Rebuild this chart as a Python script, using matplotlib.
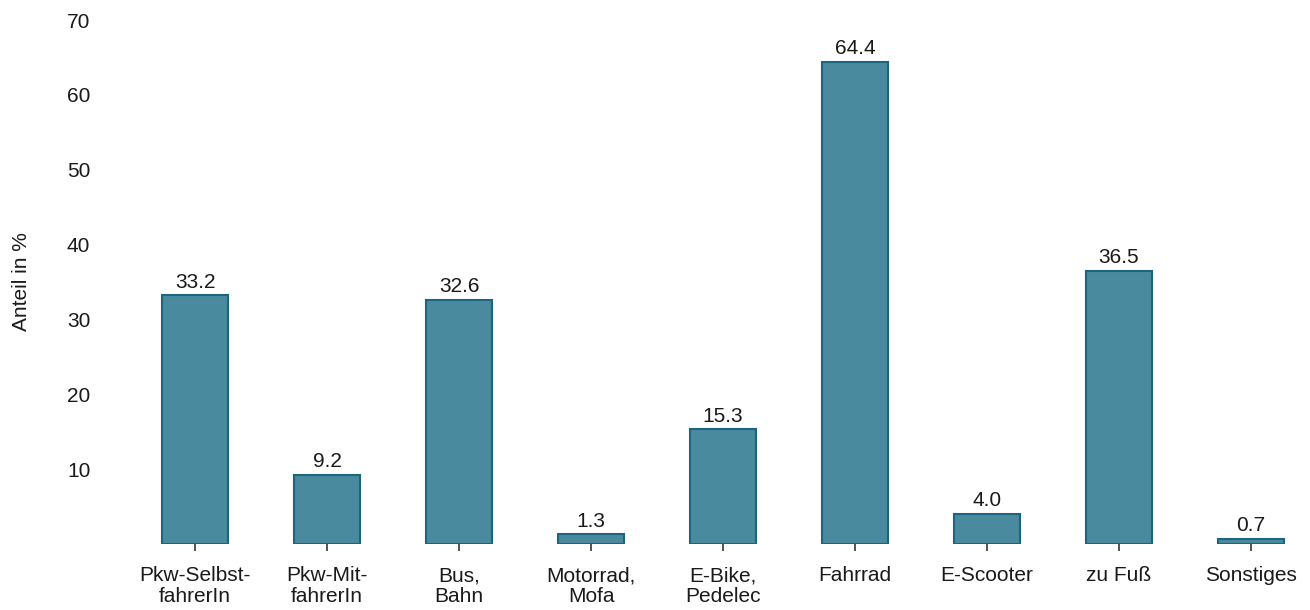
import matplotlib
matplotlib.use("Agg")
import matplotlib.pyplot as plt

plt.rcParams["font.family"] = ["Liberation Sans", "DejaVu Sans"]

categories = ["Pkw-Selbst-\nfahrerIn", "Pkw-Mit-\nfahrerIn", "Bus,\nBahn", "Motorrad,\nMofa",
              "E-Bike,\nPedelec", "Fahrrad", "E-Scooter", "zu Fuß", "Sonstiges"]
values = [33.2, 9.2, 32.6, 1.3, 15.3, 64.4, 4.0, 36.5, 0.7]
y_ticks = [10, 20, 30, 40, 50, 60, 70]

W, H = 1310, 610
fig = plt.figure(figsize=(W / 100, H / 100), dpi=100)
left, right, top, bottom = 100, 1300, 20, 544
ax = fig.add_axes([left / W, 1 - bottom / H, (right - left) / W, (bottom - top) / H])

x = list(range(len(values)))
ax.bar(x, values, width=0.5, color="#4a8a9e", edgecolor="#1d6480", linewidth=1.5)
for xi, v in zip(x, values):
    ax.text(xi, v + 0.5, f"{v:.1f}", ha="center", va="bottom", fontsize=15, color="#1a1a1a")

ax.set_xlim((left - 195) / 132, (right - 195) / 132)
ax.set_ylim(0, 70)
ax.set_xticks(x)
ax.set_xticklabels(categories, fontsize=15, color="#1a1a1a", linespacing=1.15)
ax.set_yticks(y_ticks)
ax.set_yticklabels([str(t) for t in y_ticks], fontsize=15, color="#1a1a1a")
ax.tick_params(axis="x", length=5, width=1.2, color="#333333", pad=11)
ax.tick_params(axis="y", length=0, pad=7)
ax.set_ylabel("Anteil in %", fontsize=15, color="#1a1a1a", labelpad=26)
for s in ax.spines.values():
    s.set_visible(False)

fig.savefig("out.png", dpi=100, facecolor="white")
